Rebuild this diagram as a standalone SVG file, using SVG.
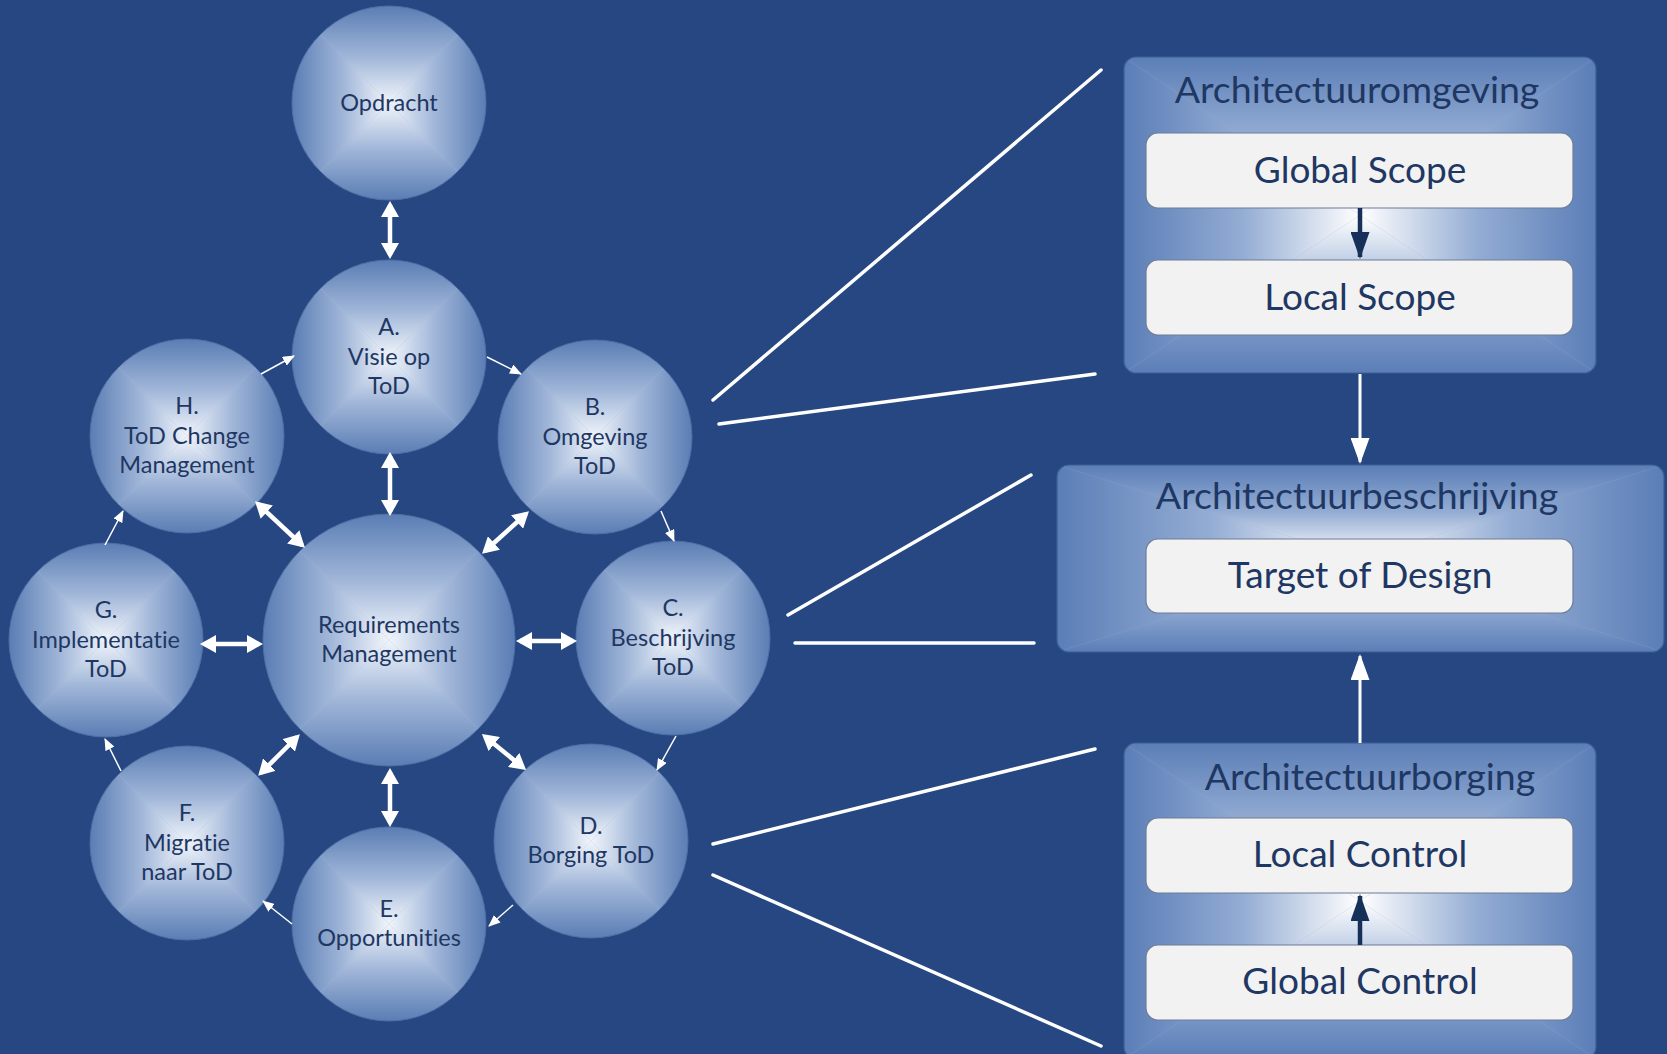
<svg xmlns="http://www.w3.org/2000/svg" xmlns:xlink="http://www.w3.org/1999/xlink" width="1667" height="1054" viewBox="0 0 1667 1054">
<style>
text{font-variant-ligatures:none;font-feature-settings:"liga" 0,"dlig" 0}
.nt{font-family:Lato,"Open Sans","Liberation Sans",sans-serif;font-size:23.5px;fill:#1f3763;text-anchor:middle}
.bt{font-family:Lato,"Open Sans","Liberation Sans",sans-serif;font-size:37px;fill:#1f3763;text-anchor:middle}
.tt{font-size:37.5px}
.rim{fill:none;stroke:#4a6ca3;stroke-width:1}
.dbl{stroke:#ffffff;stroke-width:4.5;fill:none;marker-start:url(#mDbl);marker-end:url(#mDbl)}
.sgl{stroke:#ffffff;stroke-width:1.5;fill:none;marker-end:url(#mSgl)}
.ray{stroke:#ffffff;stroke-width:3.5;stroke-linecap:round;fill:none}
.warr{stroke:#ffffff;stroke-width:3;fill:none;marker-end:url(#mBig)}
.narr{stroke:#17305a;stroke-width:4.5;fill:none;marker-end:url(#mNavy)}
.frame{fill:none;stroke:#3d5e94;stroke-width:1.2}
.inner{fill:#f2f2f2;stroke:#6d7d98;stroke-width:1.2}
</style>
<defs>
<linearGradient id="gT" x1="0" y1="0" x2="0" y2="1"><stop offset="0" stop-color="#5a7db4"/><stop offset="0.55" stop-color="#a4b9da"/><stop offset="1" stop-color="#f1f5fb"/></linearGradient>
<linearGradient id="gB" x1="0" y1="1" x2="0" y2="0"><stop offset="0" stop-color="#5a7db4"/><stop offset="0.55" stop-color="#a4b9da"/><stop offset="1" stop-color="#f1f5fb"/></linearGradient>
<linearGradient id="gL" x1="0" y1="0" x2="1" y2="0"><stop offset="0" stop-color="#5a7db4"/><stop offset="0.55" stop-color="#a4b9da"/><stop offset="1" stop-color="#f1f5fb"/></linearGradient>
<linearGradient id="gR" x1="1" y1="0" x2="0" y2="0"><stop offset="0" stop-color="#5a7db4"/><stop offset="0.55" stop-color="#a4b9da"/><stop offset="1" stop-color="#f1f5fb"/></linearGradient>
<linearGradient id="bT" x1="0" y1="0" x2="0" y2="1"><stop offset="0" stop-color="#5b7eb7"/><stop offset="0.5" stop-color="#93acd3"/><stop offset="1" stop-color="#ffffff"/></linearGradient>
<linearGradient id="bB" x1="0" y1="1" x2="0" y2="0"><stop offset="0" stop-color="#5b7eb7"/><stop offset="0.5" stop-color="#93acd3"/><stop offset="1" stop-color="#ffffff"/></linearGradient>
<linearGradient id="bL" x1="0" y1="0" x2="1" y2="0"><stop offset="0" stop-color="#5b7eb7"/><stop offset="0.5" stop-color="#93acd3"/><stop offset="1" stop-color="#ffffff"/></linearGradient>
<linearGradient id="bR" x1="1" y1="0" x2="0" y2="0"><stop offset="0" stop-color="#5b7eb7"/><stop offset="0.5" stop-color="#93acd3"/><stop offset="1" stop-color="#ffffff"/></linearGradient>
<clipPath id="ballClip"><circle r="1"/></clipPath>
<g id="ball" clip-path="url(#ballClip)">
<circle r="1" fill="#a4b9da"/>
<polygon points="-1,-1 1,-1 0,0" fill="url(#gT)"/>
<polygon points="-1,1 1,1 0,0" fill="url(#gB)"/>
<polygon points="-1,-1 -1,1 0,0" fill="url(#gL)"/>
<polygon points="1,-1 1,1 0,0" fill="url(#gR)"/>
</g>
<clipPath id="clipTop"><rect x="1124" y="57" width="472" height="316" rx="12"/></clipPath>
<clipPath id="clipMid"><rect x="1057" y="465" width="607" height="187" rx="12"/></clipPath>
<clipPath id="clipBot"><rect x="1124" y="743" width="472" height="316" rx="12"/></clipPath>
<marker id="mDbl" viewBox="0 0 16 18" refX="12" refY="9" markerWidth="16" markerHeight="18" markerUnits="userSpaceOnUse" orient="auto-start-reverse"><path d="M0,0 L16,9 L0,18 z" fill="#ffffff"/></marker>
<marker id="mSgl" viewBox="0 0 12 10" refX="11" refY="5" markerWidth="12" markerHeight="10" markerUnits="userSpaceOnUse" orient="auto"><path d="M0,0 L12,5 L0,10 z" fill="#ffffff"/></marker>
<marker id="mBig" viewBox="0 0 26 19" refX="24" refY="9.5" markerWidth="26" markerHeight="19" markerUnits="userSpaceOnUse" orient="auto"><path d="M0,0 L26,9.5 L0,19 z" fill="#ffffff"/></marker>
<marker id="mNavy" viewBox="0 0 27 19" refX="25" refY="9.5" markerWidth="27" markerHeight="19" markerUnits="userSpaceOnUse" orient="auto"><path d="M0,0 L27,9.5 L0,19 z" fill="#17305a"/></marker>
</defs>
<rect width="1667" height="1054" fill="#264782"/>

<g id="node-opdracht">
<use xlink:href="#ball" href="#ball" transform="translate(389,103) scale(97)"/>
<circle class="rim" cx="389" cy="103" r="97"/>
<text class="nt" x="389" y="111">Opdracht</text>
</g>
<g id="node-A">
<use xlink:href="#ball" href="#ball" transform="translate(389,357) scale(97)"/>
<circle class="rim" cx="389" cy="357" r="97"/>
<text class="nt" x="389" y="335">A.</text>
<text class="nt" x="389" y="365">Visie op</text>
<text class="nt" x="389" y="394">ToD</text>
</g>
<g id="node-B">
<use xlink:href="#ball" href="#ball" transform="translate(595,437) scale(97)"/>
<circle class="rim" cx="595" cy="437" r="97"/>
<text class="nt" x="595" y="415">B.</text>
<text class="nt" x="595" y="445">Omgeving</text>
<text class="nt" x="595" y="474">ToD</text>
</g>
<g id="node-C">
<use xlink:href="#ball" href="#ball" transform="translate(673,638) scale(97)"/>
<circle class="rim" cx="673" cy="638" r="97"/>
<text class="nt" x="673" y="616">C.</text>
<text class="nt" x="673" y="646">Beschrijving</text>
<text class="nt" x="673" y="675">ToD</text>
</g>
<g id="node-D">
<use xlink:href="#ball" href="#ball" transform="translate(591,841) scale(97)"/>
<circle class="rim" cx="591" cy="841" r="97"/>
<text class="nt" x="591" y="834">D.</text>
<text class="nt" x="591" y="863">Borging ToD</text>
</g>
<g id="node-E">
<use xlink:href="#ball" href="#ball" transform="translate(389,924) scale(97)"/>
<circle class="rim" cx="389" cy="924" r="97"/>
<text class="nt" x="389" y="917">E.</text>
<text class="nt" x="389" y="946">Opportunities</text>
</g>
<g id="node-F">
<use xlink:href="#ball" href="#ball" transform="translate(187,843) scale(97)"/>
<circle class="rim" cx="187" cy="843" r="97"/>
<text class="nt" x="187" y="821">F.</text>
<text class="nt" x="187" y="851">Migratie</text>
<text class="nt" x="187" y="880">naar ToD</text>
</g>
<g id="node-G">
<use xlink:href="#ball" href="#ball" transform="translate(106,640) scale(97)"/>
<circle class="rim" cx="106" cy="640" r="97"/>
<text class="nt" x="106" y="618">G.</text>
<text class="nt" x="106" y="648">Implementatie</text>
<text class="nt" x="106" y="677">ToD</text>
</g>
<g id="node-H">
<use xlink:href="#ball" href="#ball" transform="translate(187,436) scale(97)"/>
<circle class="rim" cx="187" cy="436" r="97"/>
<text class="nt" x="187" y="414">H.</text>
<text class="nt" x="187" y="444">ToD Change</text>
<text class="nt" x="187" y="473">Management</text>
</g>
<g id="node-req">
<use xlink:href="#ball" href="#ball" transform="translate(389,640) scale(126)"/>
<circle class="rim" cx="389" cy="640" r="126"/>
<text class="nt" x="389" y="633">Requirements</text>
<text class="nt" x="389" y="662">Management</text>
</g>

<g id="box-omgeving">
<g clip-path="url(#clipTop)">
<rect x="1124" y="57" width="472" height="316" fill="#93acd3"/>
<polygon points="1124,57 1596,57 1360,215" fill="url(#bT)"/>
<polygon points="1124,373 1596,373 1360,215" fill="url(#bB)"/>
<polygon points="1124,57 1124,373 1360,215" fill="url(#bL)"/>
<polygon points="1596,57 1596,373 1360,215" fill="url(#bR)"/>
</g>
<rect class="frame" x="1124" y="57" width="472" height="316" rx="12"/>
<text class="bt tt" x="1357" y="103">Architectuuromgeving</text>
<rect class="inner" x="1146" y="133" width="427" height="75" rx="12"/>
<text class="bt" x="1360" y="183">Global Scope</text>
<rect class="inner" x="1146" y="260" width="427" height="75" rx="12"/>
<text class="bt" x="1360" y="310">Local Scope</text>
<line class="narr" x1="1360" y1="208" x2="1360" y2="257"/>
</g>

<g id="box-beschrijving">
<g clip-path="url(#clipMid)">
<rect x="1057" y="465" width="607" height="187" fill="#93acd3"/>
<polygon points="1057,465 1664,465 1360.5,558.5" fill="url(#bT)"/>
<polygon points="1057,652 1664,652 1360.5,558.5" fill="url(#bB)"/>
<polygon points="1057,465 1057,652 1360.5,558.5" fill="url(#bL)"/>
<polygon points="1664,465 1664,652 1360.5,558.5" fill="url(#bR)"/>
</g>
<rect class="frame" x="1057" y="465" width="607" height="187" rx="12"/>
<text class="bt tt" x="1357" y="509">Architectuurbeschrijving</text>
<rect class="inner" x="1146" y="539" width="427" height="74" rx="12"/>
<text class="bt" x="1360" y="588">Target of Design</text>
</g>

<g id="box-borging">
<g clip-path="url(#clipBot)">
<rect x="1124" y="743" width="472" height="316" fill="#93acd3"/>
<polygon points="1124,743 1596,743 1360,901" fill="url(#bT)"/>
<polygon points="1124,1059 1596,1059 1360,901" fill="url(#bB)"/>
<polygon points="1124,743 1124,1059 1360,901" fill="url(#bL)"/>
<polygon points="1596,743 1596,1059 1360,901" fill="url(#bR)"/>
</g>
<rect class="frame" x="1124" y="743" width="472" height="316" rx="12"/>
<text class="bt tt" x="1370" y="790">Architectuurborging</text>
<rect class="inner" x="1146" y="818" width="427" height="75" rx="12"/>
<text class="bt" x="1360" y="867">Local Control</text>
<rect class="inner" x="1146" y="945" width="427" height="75" rx="12"/>
<text class="bt" x="1360" y="994">Global Control</text>
<line class="narr" x1="1360" y1="945" x2="1360" y2="896"/>
</g>

<g id="connectors">
<line class="dbl" x1="390" y1="205" x2="390" y2="255"/>
<line class="dbl" x1="390" y1="456" x2="390" y2="512"/>
<line class="dbl" x1="258" y1="504" x2="302" y2="545"/>
<line class="dbl" x1="526" y1="514" x2="485" y2="551"/>
<line class="dbl" x1="520" y1="641" x2="573" y2="641"/>
<line class="dbl" x1="485" y1="736.5" x2="523" y2="767.5"/>
<line class="dbl" x1="390" y1="772" x2="390" y2="823"/>
<line class="dbl" x1="297" y1="737" x2="261" y2="773"/>
<line class="dbl" x1="204" y1="644" x2="259" y2="644"/>

<line class="sgl" x1="261" y1="374" x2="294" y2="356"/>
<line class="sgl" x1="487" y1="357" x2="521" y2="374"/>
<line class="sgl" x1="661" y1="511" x2="674" y2="541"/>
<line class="sgl" x1="676" y1="736" x2="657" y2="770"/>
<line class="sgl" x1="513" y1="905" x2="489" y2="926"/>
<line class="sgl" x1="292" y1="924" x2="263" y2="901"/>
<line class="sgl" x1="121" y1="771" x2="105" y2="739"/>
<line class="sgl" x1="105" y1="545" x2="123" y2="511"/>

<line class="ray" x1="713" y1="400" x2="1101" y2="70"/>
<line class="ray" x1="719" y1="424" x2="1095" y2="374"/>
<line class="ray" x1="788" y1="615" x2="1031" y2="475"/>
<line class="ray" x1="795" y1="643" x2="1034" y2="643"/>
<line class="ray" x1="713" y1="844" x2="1095" y2="749"/>
<line class="ray" x1="713" y1="875" x2="1101" y2="1046"/>

<line class="warr" x1="1360" y1="374" x2="1360" y2="462"/>
<line class="warr" x1="1360" y1="743" x2="1360" y2="656"/>
</g>
</svg>
